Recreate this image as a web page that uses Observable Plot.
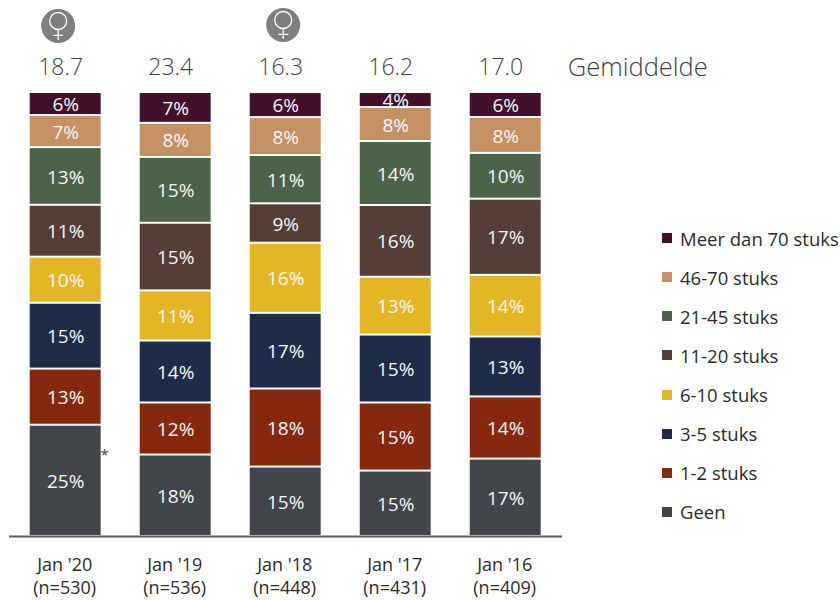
<!DOCTYPE html>
<html>
<head>
<meta charset="utf-8">
<script src="https://cdn.jsdelivr.net/npm/d3@7"></script>
<script src="https://cdn.jsdelivr.net/npm/@observablehq/plot@0.6"></script>
<style>
html,body{margin:0;padding:0;background:#fff}
#wrap{position:relative;width:840px;height:600px;overflow:hidden;font-family:"Open Sans",sans-serif}
#legend{position:absolute;left:662px;top:218.5px;margin:0;padding:0;list-style:none}
#legend li{height:39.15px;line-height:39.15px;font-size:18.5px;color:#2b2b2b;white-space:nowrap;display:flex;align-items:center}
#legend i{display:block;width:10px;height:10px;margin-right:8px}
svg text{font-family:"Open Sans",sans-serif}
</style>
</head>
<body>
<div id="wrap"><div id="chart"></div><ul id="legend"></ul></div>
<script>
const periods = ["Jan '20", "Jan '19", "Jan '18", "Jan '17", "Jan '16"];
const sampleSizes = ["(n=530)", "(n=536)", "(n=448)", "(n=431)", "(n=409)"];
const means = ["18.7", "23.4", "16.3", "16.2", "17.0"];
const meanLabel = "Gemiddelde";

// bottom to top
const seriesNames = ["Geen", "1-2 stuks", "3-5 stuks", "6-10 stuks", "11-20 stuks", "21-45 stuks", "46-70 stuks", "Meer dan 70 stuks"];
const seriesColors = ["#42454a", "#86280e", "#1e2c48", "#e2b624", "#553e35", "#4c634a", "#c49064", "#420f2c"];

const geen = [25.06, 18.35, 15.64, 14.74, 17.43];
const stuks1to2 = [12.64, 11.72, 17.58, 15.33, 14.0];
const stuks3to5 = [14.83, 13.95, 17.04, 15.3, 13.5];
const stuks6to10 = [10.38, 11.29, 15.8, 13.02, 13.88];
const stuks11to20 = [11.69, 15.24, 8.87, 16.16, 17.16];
const stuks21to45 = [12.98, 14.83, 10.88, 14.42, 10.32];
const stuks46to70 = [7.22, 7.67, 8.53, 7.63, 8.08];
const stuksOver70 = [5.2, 6.95, 5.64, 3.39, 5.64];

const labels1 = [25, 18, 15, 15, 17];
const labels2 = [13, 12, 18, 15, 14];
const labels3 = [15, 14, 17, 15, 13];
const labels4 = [10, 11, 16, 13, 14];
const labels5 = [11, 15, 9, 16, 17];
const labels6 = [13, 15, 11, 14, 10];
const labels7 = [7, 8, 8, 8, 8];
const labels8 = [6, 7, 6, 4, 6];

const seriesValues = [geen, stuks1to2, stuks3to5, stuks6to10, stuks11to20, stuks21to45, stuks46to70, stuksOver70];
const seriesLabels = [labels1, labels2, labels3, labels4, labels5, labels6, labels7, labels8];

const rows = seriesNames.flatMap((s, i) => periods.map((p, j) => ({
  period: p, series: s, value: seriesValues[i][j], label: seriesLabels[i][j] + "%"
})));
const meanRows = periods.map((p, j) => ({period: p, mean: means[j]}));
const tickText = new Map(periods.map((p, j) => [p, p + "\n" + sampleSizes[j]]));
const textGrey = "#404247";
const topValue = 100;

// Venus sign, scaled from the dot's radius
const venus = {
  draw(ctx, size) {
    const r = Math.sqrt(size / Math.PI), u = r / 17;
    ctx.moveTo(8.5 * u, -5 * u);
    ctx.arc(0, -5 * u, 8.5 * u, 0, 2 * Math.PI);
    ctx.moveTo(0, 3.5 * u);
    ctx.lineTo(0, 14 * u);
    ctx.moveTo(-5 * u, 9.3 * u);
    ctx.lineTo(5 * u, 9.3 * u);
  }
};
const femaleBadge = (period, dx, dy) => [
  Plot.dot([period], {x: (d) => d, y: topValue, r: 17, fill: "#7f7f7f", dx, dy}),
  Plot.dot([period], {x: (d) => d, y: topValue, r: 17, symbol: venus, fill: "none", stroke: "#fff", strokeWidth: 1.3, dx, dy})
];

const chart = Plot.plot({
  width: 840, height: 600,
  marginTop: 92, marginBottom: 64, marginLeft: 9, marginRight: 278,
  x: {domain: periods, range: [29.7, 540.7], paddingInner: 0.355, paddingOuter: 0, round: false, label: null},
  y: {domain: [0, topValue], axis: null, label: null},
  color: {domain: seriesNames, range: seriesColors},
  marks: [
    Plot.barY(rows, Plot.stackY({x: "period", y: "value", fill: "series", order: null, insetTop: 1, insetBottom: 1})),
    Plot.text(rows, Plot.stackY({x: "period", y: "value", z: "series", order: null, text: "label", fill: "#f6f6f6", fontSize: 19, dy: 1})),
    Plot.ruleY([0], {stroke: "#5a5c60", strokeWidth: 2}),
    Plot.axisX({anchor: "bottom", tickSize: 0, tickPadding: 17, fontSize: 18, lineHeight: 1.33, tickFormat: (d) => tickText.get(d), fill: "#2b2b2b", dx: -1}),
    Plot.text(meanRows, {x: "period", y: topValue, text: "mean", dx: -5, dy: -25, fontSize: 23, fontWeight: 300, fill: textGrey}),
    Plot.text([periods[4]], {x: (d) => d, y: topValue, text: () => meanLabel, dx: 62, dy: -25, textAnchor: "start", fontSize: 25.5, fontWeight: 300, fill: textGrey}),
    Plot.text([periods[0]], {x: (d) => d, y: 18.7, text: () => "*", dx: 39, dy: 2, fontSize: 15, fill: textGrey}),
    ...femaleBadge(periods[0], -7.5, -66.5),
    ...femaleBadge(periods[2], -2.5, -67.5)
  ]
});
document.getElementById("chart").append(chart);

const legend = d3.select("#legend");
seriesNames.slice().reverse().forEach((s, i) => {
  const li = legend.append("li");
  li.append("i").style("background", seriesColors[seriesColors.length - 1 - i]);
  li.append("span").text(s);
});
</script>
</body>
</html>
